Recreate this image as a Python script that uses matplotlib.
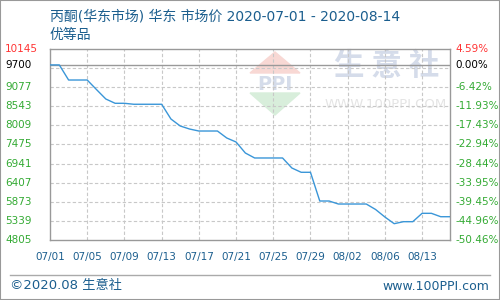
import matplotlib
matplotlib.use('Agg')
import matplotlib.pyplot as plt
from matplotlib.patches import Polygon, Rectangle
import numpy as np

# 丙酮 华东市场价, one value per point on the axis
values = [9700, 9700, 9278, 9278, 9278, 9010, 8747, 8627, 8627, 8600,
          8600, 8600, 8600, 8188, 7992, 7908, 7852, 7852, 7852, 7657,
          7545, 7237, 7098, 7098, 7098, 7098, 6818, 6698, 6698, 5895,
          5895, 5811, 5811, 5811, 5811, 5658, 5448, 5261, 5317, 5317,
          5551, 5551, 5456, 5456]
tick_labels = ['07/01', '07/05', '07/09', '07/13', '07/17', '07/21',
               '07/25', '07/29', '08/02', '08/06', '08/13']
tick_step = 4
base_price = 9700
y_min, y_max = 4805, 10145
y_step = 534

title = '丙酮(华东市场) 华东 市场价 2020-07-01 - 2020-08-14'
subtitle = '优等品'

BLUE_TXT = '#1b5e8e'
GREEN = '#33aa33'
RED = '#ff3333'
GRAY = '#999999'
FONT = ['DejaVu Sans', 'Noto Sans CJK SC']

fig = plt.figure(figsize=(5, 3), dpi=100)
ax = fig.add_axes([50 / 500, 60 / 300, 400 / 500, 191 / 300])

x = np.arange(len(values))
ax.plot(x, values, color='#3a96d8', linewidth=1.0, zorder=5)
ax.axhline(base_price, color=GRAY, linewidth=1.0, zorder=4)

ax.set_xlim(0, len(values) - 1)
ax.set_ylim(y_min, y_max)

grid_y = np.arange(y_min + y_step, base_price, y_step)
ax.set_yticks(grid_y)
ax.set_xticks(np.arange(tick_step, len(values) - 1, tick_step))
ax.tick_params(length=0, labelleft=False, labelbottom=False)
ax.grid(True, linestyle=(0, (3, 2)), color='#c8c8c8', linewidth=0.8)
for s in ax.spines.values():
    s.set_color(GRAY)
    s.set_linewidth(1.0)

# left prices / right percent change vs base price
label_vals = [y_max, base_price] + list(grid_y[::-1][1:]) + [y_min]
ytr = ax.get_yaxis_transform()
for v in label_vals:
    c = RED if v == y_max else ('black' if v == base_price else GREEN)
    ax.text(-0.1125, v, str(int(v)), transform=ytr, ha='left', va='center',
            fontsize=7.5, color=c, family=FONT)
    pct = (v - base_price) / base_price * 100
    ax.text(1.0125, v, '%.2f%%' % pct, transform=ytr, ha='left', va='center',
            fontsize=7.5, color=c, family=FONT)

xtr = ax.get_xaxis_transform()
for i, lab in enumerate(tick_labels):
    ax.text(i * tick_step, -0.089, lab, transform=xtr, ha='center', va='center',
            fontsize=7.5, color=BLUE_TXT, family=FONT)

# watermark (pixel positions -> axes fraction)
wm = ax.transAxes
def fx(px):
    return (px - 50) / 400
def fy(py):
    return (240 - py) / 191
ax.add_patch(Polygon([[fx(250), fy(73)], [fx(300), fy(73)], [fx(275), fy(52)]],
                     closed=True, transform=wm, color='#f8d8d4', zorder=1))
ax.add_patch(Polygon([[fx(250), fy(93)], [fx(300), fy(93)], [fx(275), fy(115)]],
                     closed=True, transform=wm, color='#d8eedb', zorder=1))
ax.text(fx(275), fy(84), 'PPI', transform=wm, ha='center', va='center',
        fontsize=14, color='#d5dcea', fontweight='bold', zorder=1, family=FONT)
ax.text(fx(387), fy(66), '生 意 社', transform=wm, ha='center', va='center',
        fontsize=22, color='#d5dcea', fontweight='bold', zorder=1,
        family=['Noto Sans CJK SC'])
ax.text(fx(386), fy(105), 'WWW.100PPI.COM', transform=wm, ha='center',
        va='center', fontsize=9.5, color='#e4e4e4', zorder=1, family=FONT)

# titles
fig.text(50 / 500, 1 - 17 / 300, title, ha='left', va='center', fontsize=10,
         color=BLUE_TXT, family=FONT)
fig.text(50 / 500, 1 - 35 / 300, subtitle, ha='left', va='center', fontsize=10,
         color=BLUE_TXT, family=FONT)

# footer
fig.add_artist(plt.Line2D([10 / 500, 490 / 500], [1 - 275 / 300, 1 - 275 / 300],
                          color='#aaaaaa', linewidth=1.0, transform=fig.transFigure))
fig.text(10 / 500, 1 - 286 / 300, '©2020.08 生意社', ha='left', va='center',
         fontsize=9.5, color=BLUE_TXT, family=FONT)
fig.text(489 / 500, 1 - 286 / 300, 'www.100PPI.com', ha='right', va='center',
         fontsize=9, color=BLUE_TXT, family=FONT)

fig.patches.append(Rectangle((0, 0), 1, 1, transform=fig.transFigure,
                             fill=False, edgecolor=GRAY, linewidth=1.5))

fig.savefig('out.png', dpi=100)
